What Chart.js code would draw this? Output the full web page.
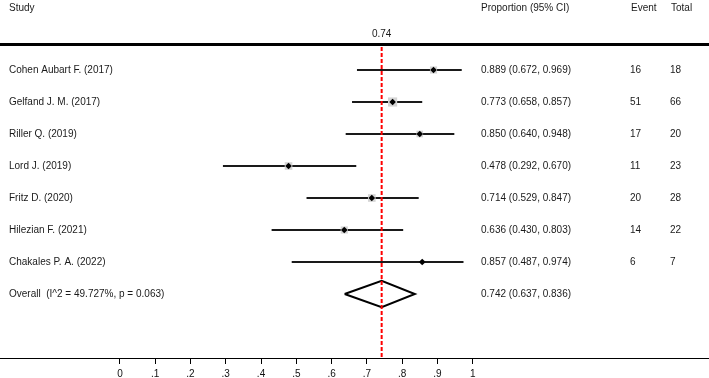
<!DOCTYPE html>
<html lang="en">
<head>
  <meta charset="UTF-8" />
  <title>Forest plot - proportion</title>
  <script src="https://cdn.jsdelivr.net/npm/chart.js"></script>
  <style>
    body {
      margin: 0;
      background-color: #fff;
    }
    .chart-box {
      width: 709px;
      height: 378px;
    }
  </style>
</head>
<body>
  <div class="chart-box">
    <canvas id="forestChart"></canvas>
  </div>

  <script>
    const studies = [
      'Cohen Aubart F. (2017)',
      'Gelfand J. M. (2017)',
      'Riller Q. (2019)',
      'Lord J. (2019)',
      'Fritz D. (2020)',
      'Hilezian F. (2021)',
      'Chakales P. A. (2022)'
    ];
    const proportion = [0.889, 0.773, 0.850, 0.478, 0.714, 0.636, 0.857];
    const ciLow = [0.672, 0.658, 0.640, 0.292, 0.529, 0.430, 0.487];
    const ciHigh = [0.969, 0.857, 0.948, 0.670, 0.847, 0.803, 0.974];
    const events = [16, 51, 17, 11, 20, 14, 6];
    const totals = [18, 66, 20, 23, 28, 22, 7];
    // rough study weights (%), read from the grey box sizes
    const weights = [14, 18, 13, 15, 15, 14, 8];

    const overallLabel = 'Overall  (I^2 = 49.727%, p = 0.063)';
    const overallEst = [0.742];
    const overallLow = [0.637];
    const overallHigh = [0.836];

    const tickValues = [0, 0.1, 0.2, 0.3, 0.4, 0.5, 0.6, 0.7, 0.8, 0.9, 1];
    const tickLabels = ['0', '.1', '.2', '.3', '.4', '.5', '.6', '.7', '.8', '.9', '1'];

    const FONT = '10px "Liberation Sans", Arial, sans-serif';
    const overallRow = studies.length;
    const diamondHalf = 0.41;

    function fmt(v) {
      return v.toFixed(3);
    }

    // one line per confidence interval
    const ciSets = studies.map((s, i) => ({
      label: s,
      data: [{ x: ciLow[i], y: i }, { x: ciHigh[i], y: i }],
      showLine: true,
      borderColor: '#1a1a1a',
      borderWidth: 1.8,
      pointRadius: 0,
      order: 4
    }));

    const datasets = ciSets.concat([
      {
        label: 'overall',
        data: [
          { x: overallLow[0], y: overallRow },
          { x: overallEst[0], y: overallRow - diamondHalf },
          { x: overallHigh[0], y: overallRow },
          { x: overallEst[0], y: overallRow + diamondHalf },
          { x: overallLow[0], y: overallRow }
        ],
        showLine: true,
        borderColor: '#000',
        borderWidth: 2,
        backgroundColor: '#fff',
        pointRadius: 0,
        order: 3
      },
      {
        label: 'pooled line',
        data: [{ x: overallEst[0], y: -0.72 }, { x: overallEst[0], y: 9 }],
        showLine: true,
        borderColor: '#ff0000',
        borderWidth: 2,
        borderDash: [4, 2],
        pointRadius: 0,
        order: 2
      },
      {
        label: 'weights',
        data: proportion.map((p, i) => ({ x: p, y: i })),
        pointStyle: 'rect',
        pointRadius: weights.map(w => w * 0.36),
        backgroundColor: '#d4d4d4',
        borderWidth: 0,
        order: 1
      },
      {
        label: 'estimates',
        data: proportion.map((p, i) => ({ x: p, y: i })),
        pointStyle: 'rectRot',
        pointRadius: 3.3,
        backgroundColor: '#000',
        borderColor: '#000',
        borderWidth: 0,
        order: 0
      }
    ]);

    const textPlugin = {
      id: 'forestText',
      afterDraw(chart) {
        const ctx = chart.ctx;
        const xs = chart.scales.x;
        const ys = chart.scales.y;
        ctx.save();
        ctx.font = FONT;
        ctx.fillStyle = '#1a1a1a';
        ctx.textBaseline = 'middle';
        ctx.textAlign = 'left';

        // header
        ctx.fillText('Study', 9, 8);
        ctx.fillText('Proportion (95% CI)', 481, 8);
        ctx.fillText('Event', 631, 8);
        ctx.fillText('Total', 671, 8);

        ctx.textAlign = 'center';
        ctx.fillText(overallEst[0].toFixed(2), xs.getPixelForValue(overallEst[0]), 34);

        // thick rule under header
        ctx.fillStyle = '#000';
        ctx.fillRect(0, 43, chart.width, 3);

        ctx.fillStyle = '#1a1a1a';
        ctx.textAlign = 'left';
        studies.forEach((s, i) => {
          const y = ys.getPixelForValue(i);
          ctx.fillText(s, 9, y);
          ctx.fillText(fmt(proportion[i]) + ' (' + fmt(ciLow[i]) + ', ' + fmt(ciHigh[i]) + ')', 481, y);
          ctx.fillText(String(events[i]), 630, y);
          ctx.fillText(String(totals[i]), 670, y);
        });
        const yo = ys.getPixelForValue(overallRow);
        ctx.fillText(overallLabel, 9, yo);
        ctx.fillText(fmt(overallEst[0]) + ' (' + fmt(overallLow[0]) + ', ' + fmt(overallHigh[0]) + ')', 481, yo);
        ctx.restore();
      }
    };

    new Chart(document.getElementById('forestChart'), {
      type: 'scatter',
      data: { datasets },
      options: {
        responsive: true,
        maintainAspectRatio: false,
        animation: false,
        layout: {
          autoPadding: false,
          padding: { top: 0, left: 0, right: 0, bottom: -6 }
        },
        plugins: {
          legend: { display: false },
          tooltip: { enabled: false }
        },
        scales: {
          x: {
            type: 'linear',
            min: -0.34,
            max: 1.67,
            afterBuildTicks: scale => {
              scale.ticks = tickValues.map(v => ({ value: v }));
            },
            ticks: {
              padding: 4,
              color: '#111',
              font: { family: '"Liberation Sans", Arial, sans-serif', size: 10 },
              callback: (value, index) => tickLabels[index]
            },
            grid: {
              display: true,
              drawOnChartArea: false,
              drawTicks: true,
              tickLength: 6,
              color: '#000'
            },
            border: { display: true, color: '#000', width: 1 }
          },
          y: {
            type: 'linear',
            display: false,
            reverse: true,
            min: -2.1875,
            max: 9
          }
        }
      },
      plugins: [textPlugin]
    });
  </script>
</body>
</html>
